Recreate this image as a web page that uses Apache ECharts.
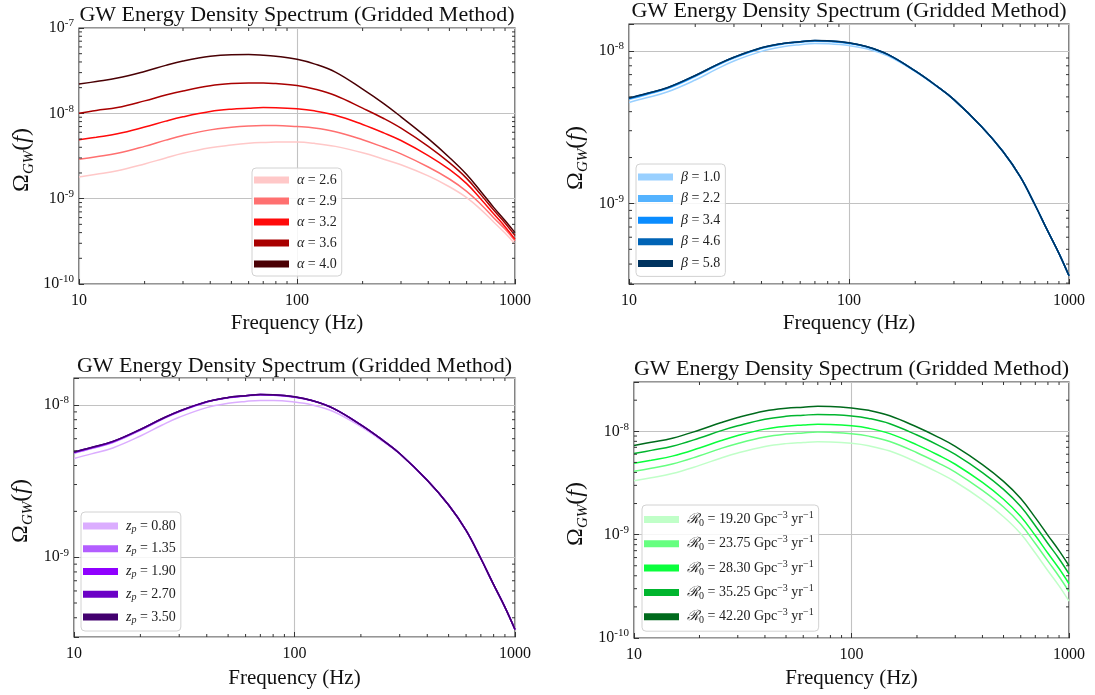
<!DOCTYPE html>
<html>
<head>
<meta charset="utf-8">
<title>GW Energy Density Spectrum (Gridded Method)</title>
<script src="https://cdn.jsdelivr.net/npm/echarts@6/dist/echarts.min.js"></script>
<style>
  html, body { margin: 0; padding: 0; background: #fff; }
  #chart { width: 1095px; height: 695px; }
</style>
</head>
<body>
<div id="chart"></div>
<script>
// frequencies (Hz), shared by every curve
const freq = [10, 12, 15, 20, 25, 30, 40, 50, 60, 70, 80, 100, 120, 150, 200, 250, 300, 400, 500, 600, 700, 800, 900, 1000]

// panel 1: alpha
const alphaNames = ['α = 2.6', 'α = 2.9', 'α = 3.2', 'α = 3.6', 'α = 4.0']
const alphaLabels = ['{i|α} = 2.6', '{i|α} = 2.9', '{i|α} = 3.2', '{i|α} = 3.6', '{i|α} = 4.0']
const alpha26 = [1.8e-9, 1.93e-9, 2.12e-9, 2.55e-9, 3.0e-9, 3.4e-9, 3.95e-9, 4.25e-9, 4.45e-9, 4.55e-9, 4.6e-9, 4.6e-9, 4.45e-9, 4.1e-9, 3.45e-9, 2.9e-9, 2.5e-9, 1.85e-9, 1.38e-9, 1.03e-9, 7.4e-10, 5.3e-10, 3.95e-10, 2.95e-10]
const alpha29 = [2.9e-9, 3.1e-9, 3.4e-9, 4.1e-9, 4.85e-9, 5.5e-9, 6.4e-9, 6.85e-9, 7.1e-9, 7.2e-9, 7.2e-9, 7.0e-9, 6.75e-9, 6.1e-9, 4.9e-9, 4.0e-9, 3.35e-9, 2.35e-9, 1.7e-9, 1.22e-9, 8.5e-10, 5.95e-10, 4.4e-10, 3.2e-10]
const alpha32 = [4.9e-9, 5.25e-9, 5.75e-9, 6.9e-9, 8.1e-9, 9.1e-9, 1.05e-8, 1.12e-8, 1.15e-8, 1.17e-8, 1.165e-8, 1.13e-8, 1.07e-8, 9.5e-9, 7.4e-9, 5.9e-9, 4.8e-9, 3.2e-9, 2.2e-9, 1.5e-9, 9.8e-10, 6.6e-10, 4.7e-10, 3.35e-10]
const alpha36 = [1.0e-8, 1.08e-8, 1.17e-8, 1.4e-8, 1.64e-8, 1.83e-8, 2.1e-8, 2.23e-8, 2.27e-8, 2.27e-8, 2.23e-8, 2.12e-8, 1.93e-8, 1.62e-8, 1.15e-8, 8.7e-9, 6.7e-9, 4.1e-9, 2.64e-9, 1.73e-9, 1.1e-9, 7.3e-10, 5.2e-10, 3.7e-10]
const alpha40 = [2.2e-8, 2.36e-8, 2.59e-8, 3.1e-8, 3.65e-8, 4.1e-8, 4.67e-8, 4.87e-8, 4.89e-8, 4.8e-8, 4.66e-8, 4.3e-8, 3.8e-8, 3.04e-8, 1.92e-8, 1.3e-8, 9.1e-9, 5.05e-9, 3.04e-9, 1.92e-9, 1.2e-9, 7.85e-10, 5.55e-10, 4.0e-10]

// panel 2: beta
const betaNames = ['β = 1.0', 'β = 2.2', 'β = 3.4', 'β = 4.6', 'β = 5.8']
const betaLabels = ['{i|β} = 1.0', '{i|β} = 2.2', '{i|β} = 3.4', '{i|β} = 4.6', '{i|β} = 5.8']
const beta10 = [4.6e-9, 4.93e-9, 5.4e-9, 6.45e-9, 7.6e-9, 8.6e-9, 9.95e-9, 1.065e-8, 1.1e-8, 1.12e-8, 1.115e-8, 1.085e-8, 1.035e-8, 9.3e-9, 7.32e-9, 5.86e-9, 4.78e-9, 3.2e-9, 2.2e-9, 1.5e-9, 9.8e-10, 6.6e-10, 4.7e-10, 3.35e-10]
const beta22 = [4.82e-9, 5.17e-9, 5.67e-9, 6.8e-9, 8.0e-9, 9.0e-9, 1.04e-8, 1.11e-8, 1.14e-8, 1.16e-8, 1.155e-8, 1.12e-8, 1.063e-8, 9.45e-9, 7.38e-9, 5.89e-9, 4.8e-9, 3.2e-9, 2.2e-9, 1.5e-9, 9.8e-10, 6.6e-10, 4.7e-10, 3.35e-10]
const beta34 = [4.88e-9, 5.23e-9, 5.73e-9, 6.88e-9, 8.08e-9, 9.08e-9, 1.048e-8, 1.118e-8, 1.149e-8, 1.169e-8, 1.164e-8, 1.129e-8, 1.069e-8, 9.5e-9, 7.4e-9, 5.9e-9, 4.8e-9, 3.2e-9, 2.2e-9, 1.5e-9, 9.8e-10, 6.6e-10, 4.7e-10, 3.35e-10]
const beta46 = [4.9e-9, 5.25e-9, 5.75e-9, 6.9e-9, 8.1e-9, 9.1e-9, 1.05e-8, 1.12e-8, 1.15e-8, 1.17e-8, 1.165e-8, 1.13e-8, 1.07e-8, 9.5e-9, 7.4e-9, 5.9e-9, 4.8e-9, 3.2e-9, 2.2e-9, 1.5e-9, 9.8e-10, 6.6e-10, 4.7e-10, 3.35e-10]
const beta58 = [4.91e-9, 5.26e-9, 5.76e-9, 6.91e-9, 8.11e-9, 9.11e-9, 1.051e-8, 1.121e-8, 1.151e-8, 1.171e-8, 1.166e-8, 1.131e-8, 1.07e-8, 9.5e-9, 7.4e-9, 5.9e-9, 4.8e-9, 3.2e-9, 2.2e-9, 1.5e-9, 9.8e-10, 6.6e-10, 4.7e-10, 3.35e-10]

// panel 3: z_p
const zpNames = ['zp = 0.80', 'zp = 1.35', 'zp = 1.90', 'zp = 2.70', 'zp = 3.50']
const zpLabels = ['{i|z}{sub|p} = 0.80', '{i|z}{sub|p} = 1.35', '{i|z}{sub|p} = 1.90', '{i|z}{sub|p} = 2.70', '{i|z}{sub|p} = 3.50']
const zp080 = [4.45e-9, 4.77e-9, 5.22e-9, 6.25e-9, 7.35e-9, 8.3e-9, 9.6e-9, 1.025e-8, 1.055e-8, 1.07e-8, 1.07e-8, 1.045e-8, 1.0e-8, 9.05e-9, 7.2e-9, 5.8e-9, 4.76e-9, 3.19e-9, 2.2e-9, 1.5e-9, 9.8e-10, 6.6e-10, 4.7e-10, 3.35e-10]
const zp135 = [4.82e-9, 5.17e-9, 5.67e-9, 6.82e-9, 8.02e-9, 9.02e-9, 1.043e-8, 1.113e-8, 1.144e-8, 1.164e-8, 1.159e-8, 1.125e-8, 1.066e-8, 9.47e-9, 7.39e-9, 5.9e-9, 4.8e-9, 3.2e-9, 2.2e-9, 1.5e-9, 9.8e-10, 6.6e-10, 4.7e-10, 3.35e-10]
const zp190 = [4.88e-9, 5.23e-9, 5.73e-9, 6.88e-9, 8.08e-9, 9.08e-9, 1.048e-8, 1.118e-8, 1.149e-8, 1.169e-8, 1.164e-8, 1.129e-8, 1.069e-8, 9.5e-9, 7.4e-9, 5.9e-9, 4.8e-9, 3.2e-9, 2.2e-9, 1.5e-9, 9.8e-10, 6.6e-10, 4.7e-10, 3.35e-10]
const zp270 = [4.9e-9, 5.25e-9, 5.75e-9, 6.9e-9, 8.1e-9, 9.1e-9, 1.05e-8, 1.12e-8, 1.15e-8, 1.17e-8, 1.165e-8, 1.13e-8, 1.07e-8, 9.5e-9, 7.4e-9, 5.9e-9, 4.8e-9, 3.2e-9, 2.2e-9, 1.5e-9, 9.8e-10, 6.6e-10, 4.7e-10, 3.35e-10]
const zp350 = [4.91e-9, 5.26e-9, 5.76e-9, 6.91e-9, 8.11e-9, 9.11e-9, 1.051e-8, 1.121e-8, 1.151e-8, 1.171e-8, 1.166e-8, 1.131e-8, 1.07e-8, 9.5e-9, 7.4e-9, 5.9e-9, 4.8e-9, 3.2e-9, 2.2e-9, 1.5e-9, 9.8e-10, 6.6e-10, 4.7e-10, 3.35e-10]

// panel 4: R0
const r0Names = ['R0 = 19.20', 'R0 = 23.75', 'R0 = 28.30', 'R0 = 35.25', 'R0 = 42.20']
const r0Labels = [
  '{cal|ℛ}{sub0|0} = 19.20 Gpc{sup|−3} yr{sup|−1}',
  '{cal|ℛ}{sub0|0} = 23.75 Gpc{sup|−3} yr{sup|−1}',
  '{cal|ℛ}{sub0|0} = 28.30 Gpc{sup|−3} yr{sup|−1}',
  '{cal|ℛ}{sub0|0} = 35.25 Gpc{sup|−3} yr{sup|−1}',
  '{cal|ℛ}{sub0|0} = 42.20 Gpc{sup|−3} yr{sup|−1}'
]
const r0192 = [3.32e-9, 3.56e-9, 3.9e-9, 4.68e-9, 5.49e-9, 6.17e-9, 7.12e-9, 7.6e-9, 7.8e-9, 7.93e-9, 7.9e-9, 7.66e-9, 7.25e-9, 6.44e-9, 5.02e-9, 4.0e-9, 3.25e-9, 2.17e-9, 1.49e-9, 1.02e-9, 6.64e-10, 4.47e-10, 3.19e-10, 2.27e-10]
const r0238 = [4.11e-9, 4.4e-9, 4.82e-9, 5.79e-9, 6.8e-9, 7.63e-9, 8.8e-9, 9.4e-9, 9.65e-9, 9.82e-9, 9.77e-9, 9.48e-9, 8.98e-9, 7.97e-9, 6.21e-9, 4.95e-9, 4.03e-9, 2.68e-9, 1.85e-9, 1.26e-9, 8.2e-10, 5.54e-10, 3.94e-10, 2.81e-10]
const r0283 = [4.9e-9, 5.25e-9, 5.75e-9, 6.9e-9, 8.1e-9, 9.1e-9, 1.05e-8, 1.12e-8, 1.15e-8, 1.17e-8, 1.165e-8, 1.13e-8, 1.07e-8, 9.5e-9, 7.4e-9, 5.9e-9, 4.8e-9, 3.2e-9, 2.2e-9, 1.5e-9, 9.8e-10, 6.6e-10, 4.7e-10, 3.35e-10]
const r0353 = [6.1e-9, 6.54e-9, 7.16e-9, 8.6e-9, 1.01e-8, 1.13e-8, 1.31e-8, 1.395e-8, 1.43e-8, 1.457e-8, 1.45e-8, 1.41e-8, 1.333e-8, 1.183e-8, 9.2e-9, 7.35e-9, 5.98e-9, 3.99e-9, 2.74e-9, 1.87e-9, 1.22e-9, 8.2e-10, 5.85e-10, 4.17e-10]
const r0422 = [7.3e-9, 7.83e-9, 8.57e-9, 1.03e-8, 1.21e-8, 1.36e-8, 1.57e-8, 1.67e-8, 1.71e-8, 1.745e-8, 1.74e-8, 1.685e-8, 1.595e-8, 1.415e-8, 1.1e-8, 8.8e-9, 7.15e-9, 4.77e-9, 3.28e-9, 2.24e-9, 1.46e-9, 9.85e-10, 7.0e-10, 5.0e-10]

// minor tick values of the log axes
const xMinor = [20, 30, 40, 50, 60, 70, 80, 90, 200, 300, 400, 500, 600, 700, 800, 900]
const yMinor = [2e-10, 3e-10, 4e-10, 5e-10, 6e-10, 7e-10, 8e-10, 9e-10,
  2e-9, 3e-9, 4e-9, 5e-9, 6e-9, 7e-9, 8e-9, 9e-9,
  2e-8, 3e-8, 4e-8, 5e-8, 6e-8, 7e-8, 8e-8, 9e-8]

const FONT = "'Liberation Serif', 'DejaVu Serif', serif"
const TITLE = 'GW Energy Density Spectrum (Gridded Method)'

const panels = [
  {
    grid: { left: 79, top: 28, width: 436, height: 256 }, yMin: 1e-10, yMax: 1e-7,
    names: alphaNames, labels: alphaLabels, values: [alpha26, alpha29, alpha32, alpha36, alpha40],
    colors: ['#ffc8c8', '#ff7070', '#ff0a0a', '#a80000', '#4a0004'],
    legend: { left: 252, top: 168, itemGap: 7, lineHeight: 14, padding: [5, 5, 5, 2] },
    title: [297, 15], xname: [297, 323], yname: [22, 160]
  },
  {
    grid: { left: 629, top: 24, width: 440, height: 260 }, yMin: 2.96e-10, yMax: 1.504e-8,
    names: betaNames, labels: betaLabels, values: [beta10, beta22, beta34, beta46, beta58],
    colors: ['#99d0ff', '#55b3ff', '#0a8cff', '#0063b5', '#00335f'],
    legend: { left: 636, top: 164, itemGap: 7.6, lineHeight: 14, padding: [6, 5, 6, 2] },
    title: [849, 11], xname: [849, 323], yname: [576, 158]
  },
  {
    grid: { left: 74, top: 378, width: 441, height: 259 }, yMin: 2.99e-10, yMax: 1.503e-8,
    names: zpNames, labels: zpLabels, values: [zp080, zp135, zp190, zp270, zp350],
    colors: ['#dbadff', '#b35eff', '#9000ff', '#6b00c6', '#42006e'],
    legend: { left: 81, top: 512, itemGap: 6.75, lineHeight: 16, padding: [6, 5, 6, 2] },
    title: [294.5, 366], xname: [294.5, 678], yname: [21, 511]
  },
  {
    grid: { left: 634, top: 382, width: 435, height: 256 }, yMin: 1e-10, yMax: 3.0e-8,
    names: r0Names, labels: r0Labels, values: [r0192, r0238, r0283, r0353, r0422],
    colors: ['#c0ffc8', '#66ff80', '#0aff3c', '#00b52e', '#006a1c'],
    legend: { left: 642, top: 505, itemGap: 6.3, lineHeight: 18, padding: [5.5, 5, 5.5, 2] },
    title: [851.5, 369], xname: [851.5, 678], yname: [576, 514]
  }
]

const rich = {
  i: { fontFamily: FONT, fontStyle: 'italic', fontSize: 14, color: '#222' },
  sub: { fontFamily: FONT, fontStyle: 'italic', fontSize: 10, lineHeight: 10, verticalAlign: 'bottom', color: '#222' },
  sub0: { fontFamily: FONT, fontSize: 10, lineHeight: 10, verticalAlign: 'bottom', color: '#222' },
  sup: { fontFamily: FONT, fontSize: 10, lineHeight: 10, verticalAlign: 'top', color: '#222' },
  cal: { fontFamily: "'DejaVu Serif', serif", fontStyle: 'italic', fontSize: 14, color: '#222' }
}

const isPow10 = v => Math.abs(Math.log10(v) - Math.round(Math.log10(v))) < 1e-6

const grids = [], xAxes = [], yAxes = [], series = [], legends = [], graphics = []

panels.forEach((p, gi) => {
  grids.push(Object.assign({ show: true, borderColor: '#2e2e2e', borderWidth: 1.2, backgroundColor: 'transparent' }, p.grid))

  xAxes.push({
    type: 'log', logBase: 10, gridIndex: gi, min: 10, max: 1000,
    axisLine: { show: false },
    axisTick: { show: true, inside: true, length: 5, lineStyle: { color: '#333' } },
    axisLabel: {
      fontFamily: FONT, fontSize: 16, color: '#111', margin: 9,
      formatter: v => (isPow10(v) ? String(Math.round(v)) : '')
    },
    splitLine: { show: true, lineStyle: { color: '#c2c2c2', width: 1.1 } }
  })

  yAxes.push({
    type: 'log', logBase: 10, gridIndex: gi, min: p.yMin, max: p.yMax,
    axisLine: { show: false },
    axisTick: { show: true, inside: true, length: 5, lineStyle: { color: '#333' } },
    axisLabel: {
      fontFamily: FONT, fontSize: 16, color: '#111', margin: 5, lineHeight: 20,
      formatter: v => (isPow10(v) ? '10{sup|-' + Math.abs(Math.round(Math.log10(v))) + '}' : ''),
      rich: { sup: { fontFamily: FONT, fontSize: 11, lineHeight: 11, verticalAlign: 'top', color: '#111' } }
    },
    splitLine: { show: true, lineStyle: { color: '#c2c2c2', width: 1.1 } }
  })

  p.names.forEach((name, k) => {
    series.push({
      name: name, type: 'line', xAxisIndex: gi, yAxisIndex: gi,
      data: freq.map((f, i) => [f, p.values[k][i]]),
      color: p.colors[k], showSymbol: false, smooth: 0.4, clip: true,
      lineStyle: { width: 1.5, color: p.colors[k] }, z: 3 + k
    })
  })

  // minor ticks, drawn inside on all four sides
  series.push({
    type: 'custom', xAxisIndex: gi, yAxisIndex: gi, silent: true, z: 10,
    data: xMinor.map(v => [v, p.yMax]),
    renderItem: (params, api) => {
      const cs = params.coordSys
      const px = api.coord([api.value(0), api.value(1)])[0]
      const st = { stroke: '#333', lineWidth: 1 }
      return {
        type: 'group', children: [
          { type: 'line', shape: { x1: px, y1: cs.y + cs.height, x2: px, y2: cs.y + cs.height - 3 }, style: st },
          { type: 'line', shape: { x1: px, y1: cs.y, x2: px, y2: cs.y + 3 }, style: st }
        ]
      }
    }
  })
  series.push({
    type: 'custom', xAxisIndex: gi, yAxisIndex: gi, silent: true, z: 10,
    data: yMinor.map(v => [10, v]),
    renderItem: (params, api) => {
      const cs = params.coordSys
      const py = api.coord([api.value(0), api.value(1)])[1]
      if (py < cs.y + 0.5 || py > cs.y + cs.height - 0.5) return null
      const st = { stroke: '#333', lineWidth: 1 }
      return {
        type: 'group', children: [
          { type: 'line', shape: { x1: cs.x, y1: py, x2: cs.x + 3, y2: py }, style: st },
          { type: 'line', shape: { x1: cs.x + cs.width, y1: py, x2: cs.x + cs.width - 3, y2: py }, style: st }
        ]
      }
    }
  })

  legends.push({
    orient: 'vertical', left: p.legend.left, top: p.legend.top,
    padding: p.legend.padding, itemGap: p.legend.itemGap,
    itemWidth: 35, itemHeight: 7, icon: 'rect', selectedMode: false,
    data: p.names,
    backgroundColor: 'rgba(255,255,255,0.85)', borderColor: '#d2d2d2', borderWidth: 1, borderRadius: 4,
    textStyle: { fontFamily: FONT, fontSize: 14, color: '#222', lineHeight: p.legend.lineHeight, padding: [0, 0, 0, 3], rich: rich },
    formatter: name => p.labels[p.names.indexOf(name)]
  })

  graphics.push({
    type: 'text', x: p.title[0], y: p.title[1], silent: true,
    style: { text: TITLE, fontFamily: FONT, fontSize: 22, fill: '#111', align: 'center', verticalAlign: 'middle' }
  })
  graphics.push({
    type: 'text', x: p.xname[0], y: p.xname[1], silent: true,
    style: { text: 'Frequency (Hz)', fontFamily: FONT, fontSize: 21, fill: '#111', align: 'center', verticalAlign: 'middle' }
  })
  graphics.push({
    type: 'text', x: p.yname[0], y: p.yname[1], rotation: Math.PI / 2, silent: true,
    style: {
      text: 'Ω{sub|GW}({i|f})', fontFamily: FONT, fontSize: 24, lineHeight: 30, fill: '#111',
      align: 'center', verticalAlign: 'middle',
      rich: {
        sub: { fontFamily: FONT, fontStyle: 'italic', fontSize: 15, lineHeight: 14, verticalAlign: 'bottom', fill: '#111' },
        i: { fontFamily: FONT, fontStyle: 'italic', fontSize: 24, fill: '#111' }
      }
    }
  })
})

const chart = echarts.init(document.getElementById('chart'), null, { renderer: 'canvas' })
chart.setOption({
  animation: false,
  backgroundColor: '#fff',
  grid: grids,
  xAxis: xAxes,
  yAxis: yAxes,
  legend: legends,
  series: series,
  graphic: graphics
})
</script>
</body>
</html>
